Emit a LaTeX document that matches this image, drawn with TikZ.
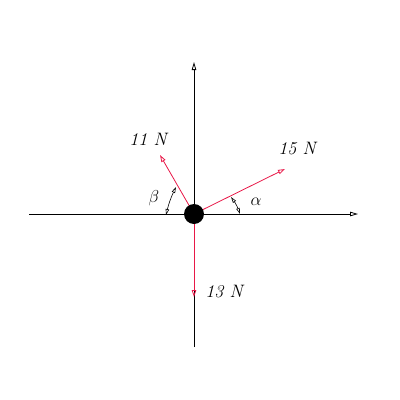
\documentclass[tikz,border=0pt]{standalone}
\usetikzlibrary{arrows.meta}
\definecolor{force}{RGB}{232,24,72}
\begin{document}
\begin{tikzpicture}[x=1pt,y=-1pt,
  axis/.style={draw=black,line width=0.8pt},
  forcearrow/.style={draw=force,line width=0.8pt,-{Triangle[open,length=7pt,width=4.5pt]}},
  anglearc/.style={draw=black,line width=0.6pt,{Triangle[open,length=6pt,width=3.5pt]}-{Triangle[open,length=6pt,width=3.5pt]}},
  lbl/.style={font=\fontsize{18}{21}\selectfont\itshape,inner sep=1pt}]
\useasboundingbox (0,0) rectangle (400,400);
\coordinate (O) at (194,214);
\coordinate (xl) at (29,214);
\coordinate (xr) at (358,214);
\coordinate (yt) at (194,62);
\coordinate (yb) at (194,347);
\draw[axis] (xl) -- (O);
\draw[axis,-{Triangle[open,length=8pt,width=4.5pt]}] (O) -- (xr);
\draw[axis] (yb) -- (O);
\draw[axis,-{Triangle[open,length=8pt,width=4.5pt]}] (O) -- (yt);
\coordinate (f15) at (285,169);
\coordinate (f11) at (160,155);
\coordinate (f13) at (194,297);
\draw[forcearrow] (O) -- (f15);
\draw[forcearrow] (O) -- (f11);
\draw[forcearrow] (O) -- (f13);
\coordinate (a1) at (231,197);
\coordinate (a2) at (240,214);
\coordinate (b1) at (176,187);
\coordinate (b2) at (166,215);
\draw[anglearc] (a1) to[bend left=8] (a2);
\draw[anglearc] (b1) to[bend right=6] (b2);
\node[circle,fill=black,minimum size=20pt,inner sep=0pt] (c) at (O) {};
\node[lbl] (l11) at (148,139) {11 N};
\node[lbl] (l15) at (297,149) {15 N};
\node[lbl] (l13) at (224,292) {13 N};
\node[lbl] (lb) at (154,198) {$\beta$};
\node[lbl] (la) at (256,202) {$\alpha$};
\end{tikzpicture}
\end{document}
